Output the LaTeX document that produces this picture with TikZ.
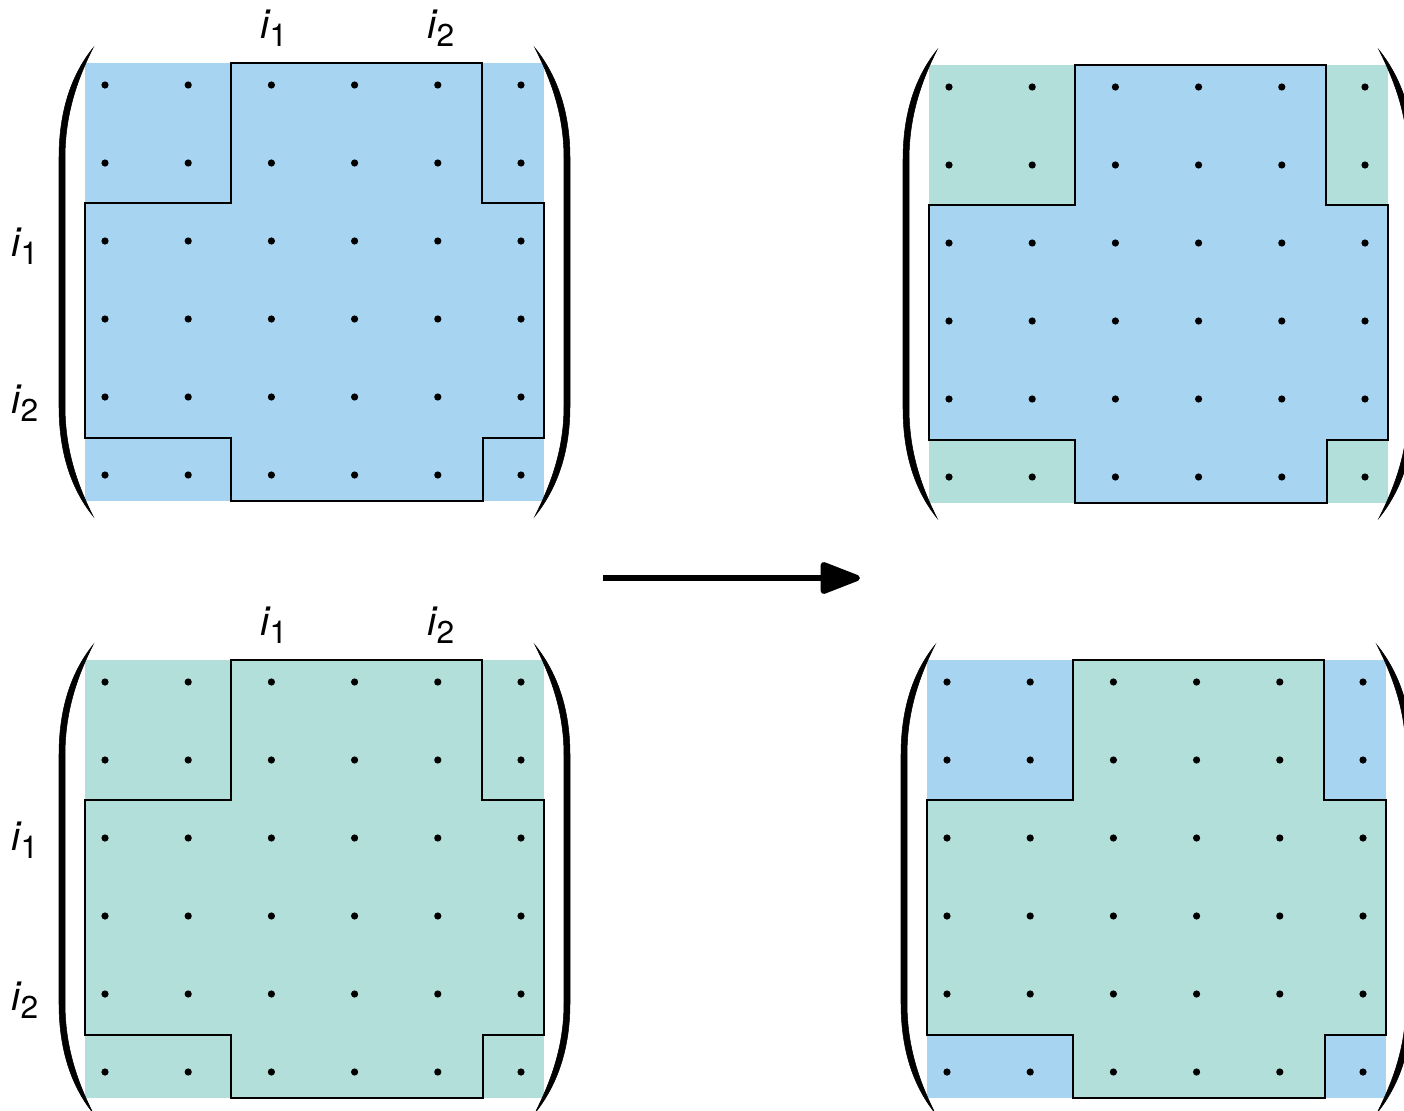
\documentclass[tikz,border=0pt]{standalone}
\usepackage{fontspec}
\setmainfont{TeX Gyre Heros}
\usetikzlibrary{arrows.meta}
\definecolor{MatBlue}{RGB}{167,212,241}
\definecolor{MatGreen}{RGB}{178,223,217}
\newcommand{\idx}[1]{\textit{i}\kern-1pt\raisebox{-4.5pt}{\fontsize{18}{18}\selectfont #1}}
\tikzset{
  mat/outline/.style={draw=black, line width=1.1pt},
  mat/dot/.style={fill=black},
  mat/paren/.style={fill=black, draw=black, line width=0.3pt},
  mat/label/.style={font=\fontsize{23}{26}\selectfont, inner sep=0pt},
  mat/arrow/.style={-{Triangle[length=9mm,width=6.6mm,round]}, line width=3.4pt, draw=black}
}

\begin{document}
\begin{tikzpicture}[x=0.2mm,y=-0.2mm]
  \useasboundingbox (0,0) rectangle (1404,1111);
  \clip (0,0) rectangle (1404,1111);
  % the four matrices: corner colour, cross colour
  \foreach \mx/\my/\outcol/\incol in {85/63/MatBlue/MatBlue, 929/65/MatGreen/MatBlue,
                                      85/660/MatGreen/MatGreen, 927/660/MatBlue/MatGreen}{
    \begin{scope}[shift={(\mx,\my)}]
      \fill[\outcol] (0,0) rectangle (459,438);
      \filldraw[fill=\incol, mat/outline] (146,0) -- (397,0) -- (397,140) -- (459,140)
        -- (459,375) -- (398,375) -- (398,438) -- (146,438) -- (146,375) -- (0,375)
        -- (0,140) -- (146,140) -- cycle;
      \foreach \c in {0,...,5}
        \foreach \r in {0,...,5}
          \fill[mat/dot] ({20+83.2*\c},{22+78*\r}) circle[radius=0.72mm];
      % brackets
      \filldraw[mat/paren] (8,-15) .. controls (-12,10) and (-26,45) .. (-26,95) -- (-26,343)
        .. controls (-26,393) and (-12,428) .. (8,453)
        .. controls (-7,423) and (-20,388) .. (-20,343) -- (-20,95)
        .. controls (-20,50) and (-7,15) .. (8,-15) -- cycle;
      \filldraw[mat/paren] (450,-15) .. controls (470,10) and (485,45) .. (485,95) -- (485,343)
        .. controls (485,393) and (470,428) .. (450,453)
        .. controls (465,423) and (479,388) .. (479,343) -- (479,95)
        .. controls (479,50) and (465,15) .. (450,-15) -- cycle;
    \end{scope}
  }
  % index labels
  \node[mat/label] (topcolone) at (274,28) {\idx{1}};
  \node[mat/label] (topcoltwo) at (441,28) {\idx{2}};
  \node[mat/label] (toprowone) at (25,246) {\idx{1}};
  \node[mat/label] (toprowtwo) at (25,403) {\idx{2}};
  \node[mat/label] (botcolone) at (274,625) {\idx{1}};
  \node[mat/label] (botcoltwo) at (441,625) {\idx{2}};
  \node[mat/label] (botrowone) at (25,840) {\idx{1}};
  \node[mat/label] (botrowtwo) at (25,1000) {\idx{2}};
  % map
  \coordinate (arrowtail) at (603,578);
  \coordinate (arrowhead) at (860,578);
  \draw[mat/arrow] (arrowtail) -- (arrowhead);
\end{tikzpicture}
\end{document}
